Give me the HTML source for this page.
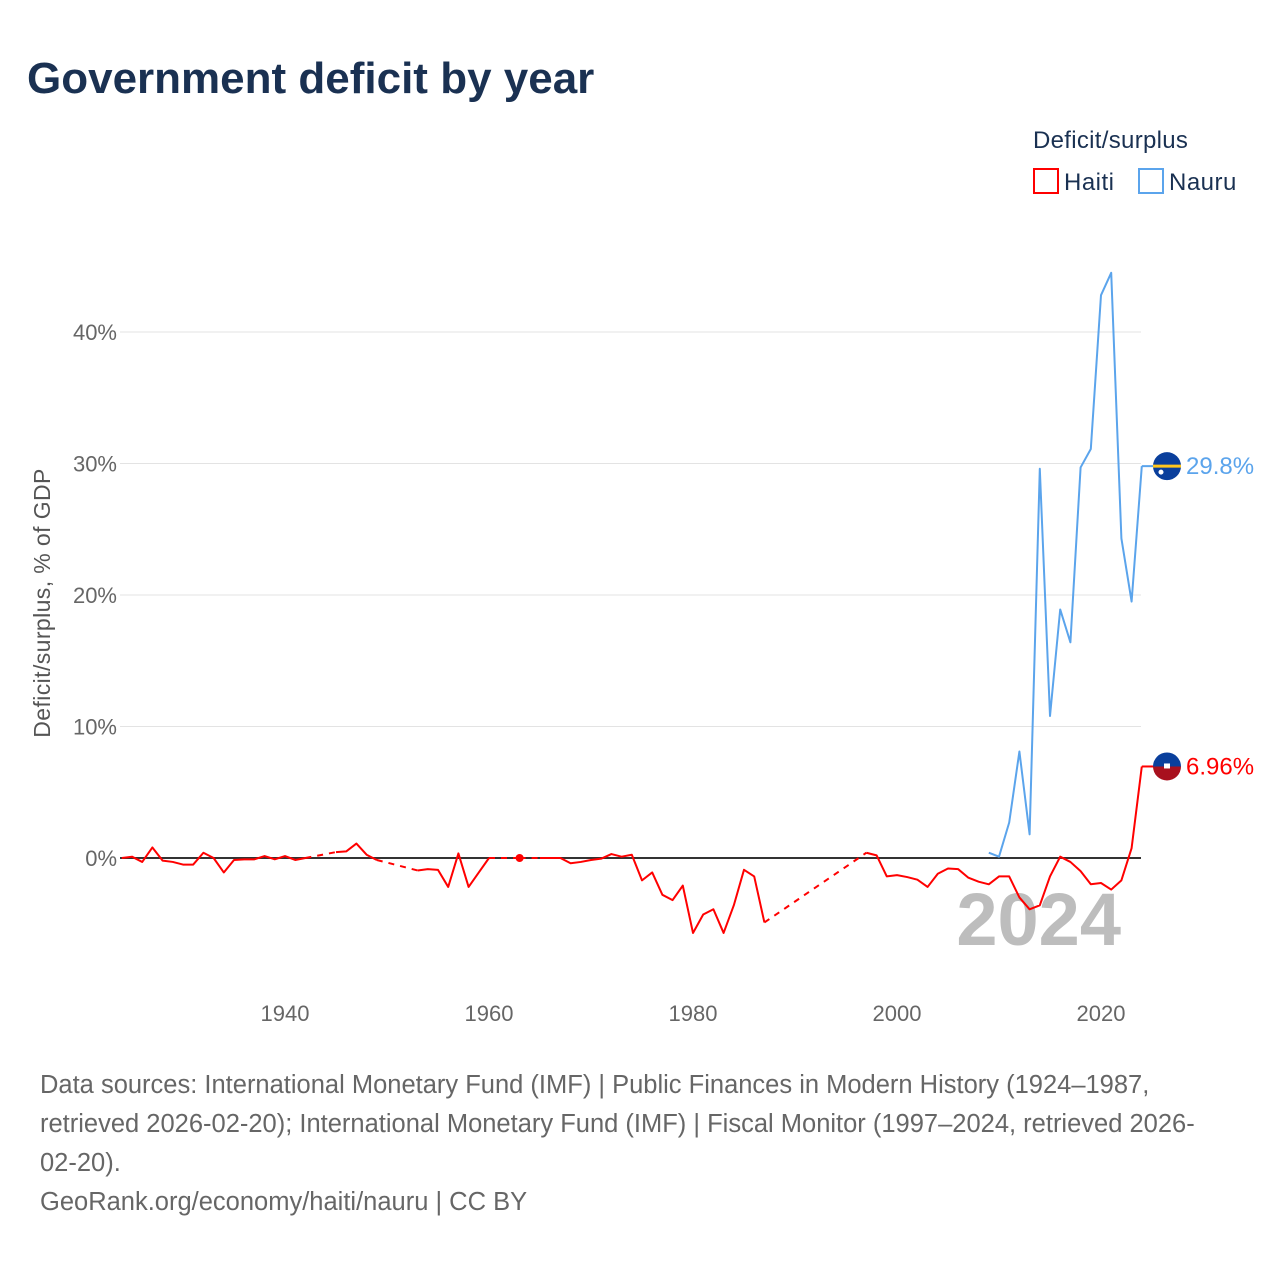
<!DOCTYPE html>
<html><head><meta charset="utf-8">
<style>
html,body{margin:0;padding:0;background:#fff;}
body{width:1280px;height:1280px;overflow:hidden;font-family:"Liberation Sans",sans-serif;}
</style></head>
<body>
<svg id="chart" width="1280" height="1280" viewBox="0 0 1280 1280" xmlns="http://www.w3.org/2000/svg" font-family="Liberation Sans, sans-serif">
<text x="27" y="93" font-size="44" font-weight="bold" fill="#1a3152">Government deficit by year</text>
<g>
<text x="1033" y="148" font-size="24" fill="#1a3152" letter-spacing="0.3">Deficit/surplus</text>
<rect x="1034" y="169" width="24" height="24" fill="none" stroke="#ff0000" stroke-width="2"/>
<text x="1064" y="190" font-size="24" fill="#1a3152" letter-spacing="0.5">Haiti</text>
<rect x="1139" y="169" width="24" height="24" fill="none" stroke="#5ba4ec" stroke-width="2"/>
<text x="1169" y="190" font-size="24" fill="#1a3152" letter-spacing="0.5">Nauru</text>
</g>
<text transform="translate(50,603) rotate(-90)" text-anchor="middle" font-size="23" fill="#555" letter-spacing="0.4">Deficit/surplus, % of GDP</text>
<g id="grid"></g>
<text x="1121" y="945" text-anchor="end" font-size="74" font-weight="bold" fill="#bdbdbd">2024</text>
<g id="series"></g>
<g font-size="25.5" fill="#666">
<text x="40" y="1093">Data sources: International Monetary Fund (IMF) | Public Finances in Modern History (1924–1987,</text>
<text x="40" y="1132">retrieved 2026-02-20); International Monetary Fund (IMF) | Fiscal Monitor (1997–2024, retrieved 2026-</text>
<text x="40" y="1171">02-20).</text>
<text x="40" y="1210">GeoRank.org/economy/haiti/nauru | CC BY</text>
</g>
</svg>
<script>
const yTicks=[0,10,20,30,40];
const xTicks=[1940,1960,1980,2000,2020];
const haitiYears=[1924,1925,1926,1927,1928,1929,1930,1931,1932,1933,1934,1935,1936,1937,1938,1939,1940,1941,1942,1945,1946,1947,1948,1949,1953,1954,1955,1956,1957,1958,1959,1960,1963,1965,1966,1967,1968,1969,1970,1971,1972,1973,1974,1975,1976,1977,1978,1979,1980,1981,1982,1983,1984,1985,1986,1987,1997,1998,1999,2000,2001,2002,2003,2004,2005,2006,2007,2008,2009,2010,2011,2012,2013,2014,2015,2016,2017,2018,2019,2020,2021,2022,2023,2024];
const haitiValues=[0,0.1,-0.3,0.8,-0.2,-0.3,-0.5,-0.5,0.4,0,-1.1,-0.15,-0.1,-0.1,0.15,-0.1,0.15,-0.15,0,0.45,0.5,1.1,0.25,-0.15,-0.95,-0.85,-0.9,-2.2,0.35,-2.2,-1.1,0,0,0,0,0,-0.4,-0.3,-0.15,-0.05,0.3,0.1,0.25,-1.7,-1.1,-2.8,-3.2,-2.1,-5.7,-4.3,-3.9,-5.7,-3.6,-0.9,-1.4,-4.9,0.4,0.2,-1.4,-1.3,-1.45,-1.65,-2.2,-1.2,-0.8,-0.85,-1.5,-1.8,-2.0,-1.4,-1.4,-3.0,-3.9,-3.6,-1.4,0.1,-0.3,-1.0,-2.0,-1.9,-2.4,-1.7,0.75,6.96];
const nauruYears=[2009,2010,2011,2012,2013,2014,2015,2016,2017,2018,2019,2020,2021,2022,2023,2024];
const nauruValues=[0.4,0.1,2.7,8.1,1.8,29.6,10.8,18.9,16.4,29.7,31.1,42.8,44.5,24.3,19.5,29.8];
const X=y=>285+(y-1940)*10.2;
const Y=v=>858-v*13.15;
const NS="http://www.w3.org/2000/svg";
function mk(tag,attrs,parent){const e=document.createElementNS(NS,tag);for(const k in attrs)e.setAttribute(k,attrs[k]);parent.appendChild(e);return e;}
const grid=document.getElementById('grid');
yTicks.forEach(t=>{
  const l=mk('line',{x1:120,x2:1141,y1:Y(t),y2:Y(t),stroke:t===0?'#333':'#e3e3e3','stroke-width':t===0?2:1},grid);
  
  
  const tx=mk('text',{x:117,y:Y(t)+8,'text-anchor':'end','font-size':22,fill:'#666'},grid);
  tx.textContent=t+'%';
  
  
});
xTicks.forEach(t=>{
  const tx=mk('text',{x:X(t),y:1021,'text-anchor':'middle','font-size':22,fill:'#666'},grid);
  tx.textContent=t;
  
  
});
const ser=document.getElementById('series');
function drawSeries(years,vals,color,name){
  const g=mk('g',{},ser);
  
  
  let seg=[[X(years[0]),Y(vals[0])]];
  const segs=[];
  for(let i=1;i<years.length;i++){
    const p=[X(years[i]),Y(vals[i])];
    if(years[i]-years[i-1]===1){seg.push(p);}
    else{
      segs.push(seg);
      const d=mk('line',{x1:seg[seg.length-1][0],y1:seg[seg.length-1][1],x2:p[0],y2:p[1],stroke:color,'stroke-width':2,'stroke-dasharray':'6,6'},g);
      
      
      seg=[p];
    }
  }
  segs.push(seg);
  segs.forEach(s=>{
    if(s.length===1){
      const c=mk('circle',{cx:s[0][0],cy:s[0][1],r:4,fill:color},g);
      
      
    } else {
      const pl=mk('polyline',{points:s.map(p=>p.join(',')).join(' '),fill:'none',stroke:color,'stroke-width':2,'stroke-linejoin':'round'},g);
      
      
    }
  });
  const lx=X(years[years.length-1]), ly=Y(vals[vals.length-1]);
  const tail=mk('line',{x1:lx,y1:ly,x2:1155,y2:ly,stroke:color,'stroke-width':2},g);
  
  
  return ly;
}
const hy=drawSeries(haitiYears,haitiValues,'#ff0000','haiti');
const ny=drawSeries(nauruYears,nauruValues,'#5ba4ec','nauru');
const fn=mk('g',{},ser);


mk('circle',{cx:1167,cy:ny,r:14,fill:'#0a3f9c'},fn);
mk('rect',{x:1153,y:ny-1.5,width:28,height:3,fill:'#ffc61e'},fn);
mk('circle',{cx:1161,cy:ny+6,r:2.5,fill:'#fff'},fn);
const nl=mk('text',{x:1186,y:ny+8,'font-size':24,fill:'#5ba4ec'},ser);
nl.textContent=nauruValues[nauruValues.length-1].toFixed(1)+'%';


const fh=mk('g',{},ser);


mk('path',{d:`M1153 ${hy} A14 14 0 0 1 1181 ${hy} Z`,fill:'#0a3f9c'},fh);
mk('path',{d:`M1153 ${hy} A14 14 0 0 0 1181 ${hy} Z`,fill:'#a8101e'},fh);
mk('rect',{x:1164,y:hy-3,width:6,height:5,fill:'#fff'},fh);
const hl=mk('text',{x:1186,y:hy+8,'font-size':24,fill:'#ff0000'},ser);
hl.textContent=haitiValues[haitiValues.length-1].toFixed(2)+'%';


</script>
</body></html>
